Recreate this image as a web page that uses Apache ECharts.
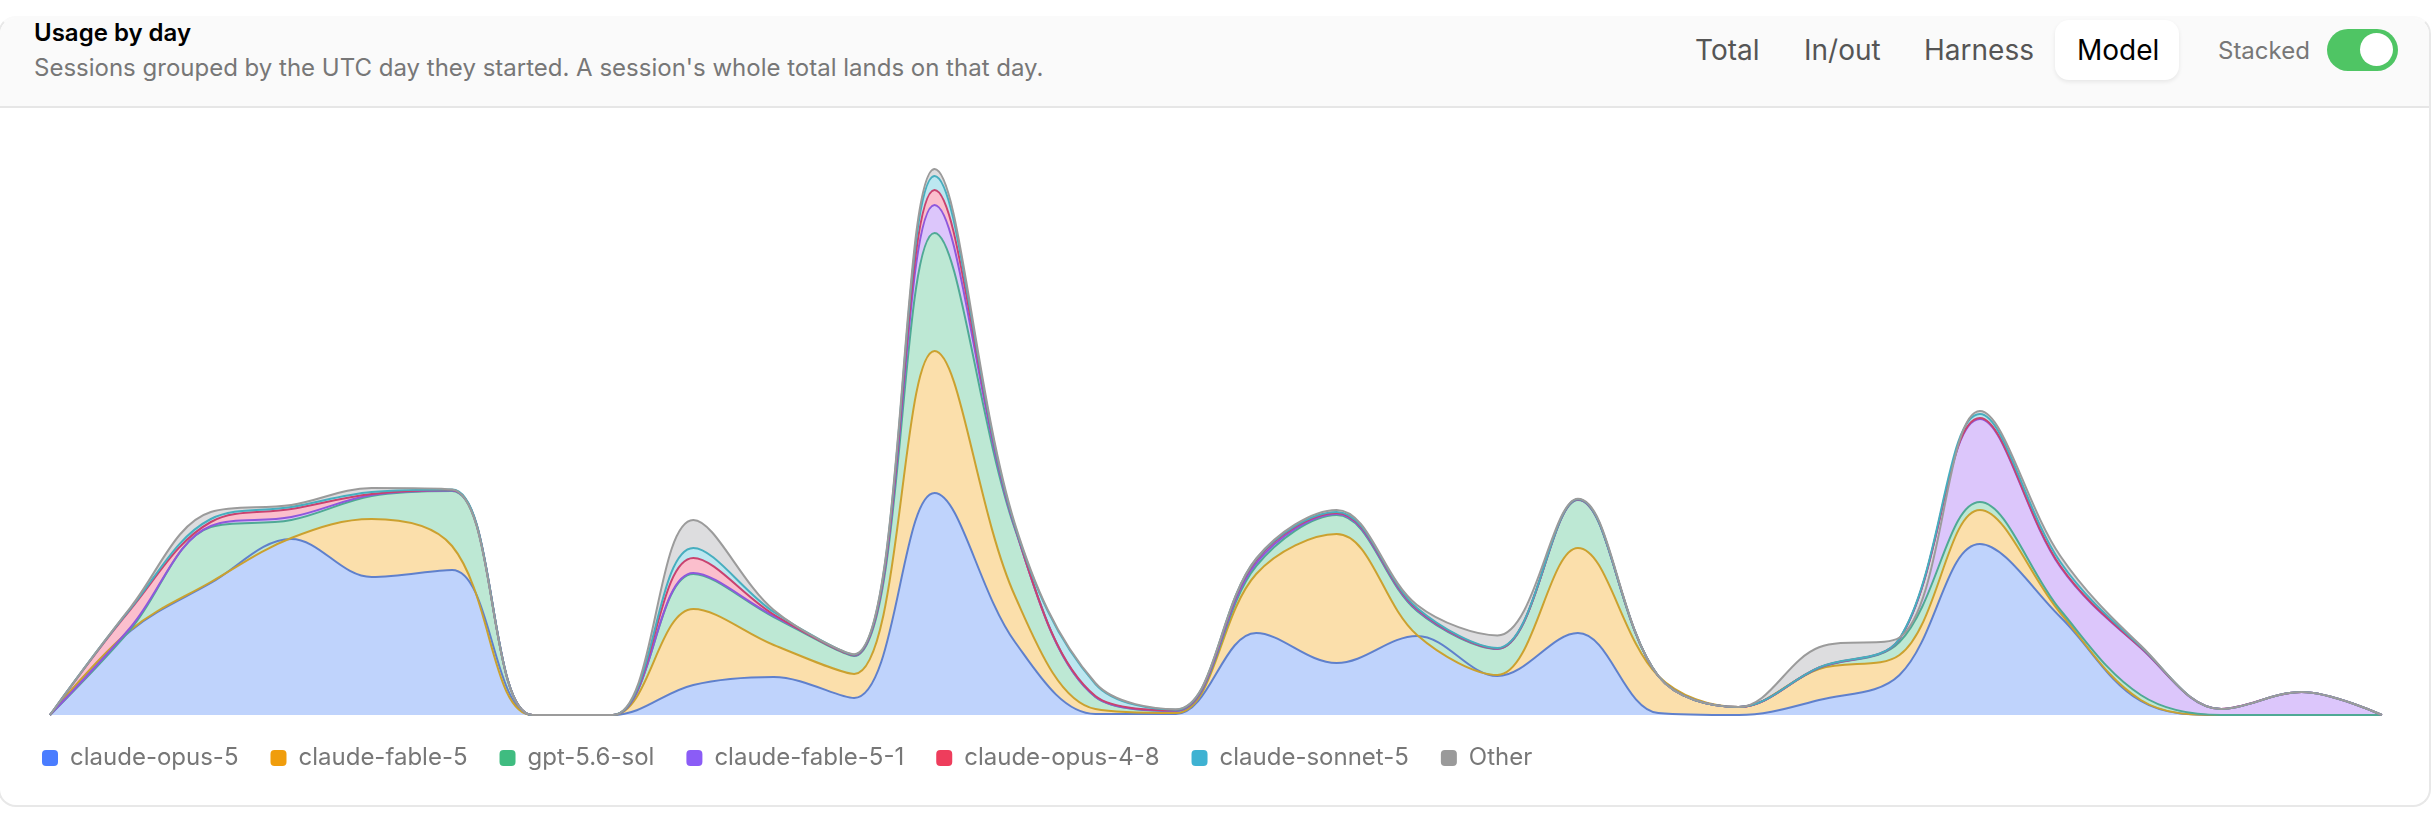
<!DOCTYPE html>
<html>
<head>
<meta charset="utf-8">
<title>Usage by day</title>
<script src="https://cdn.jsdelivr.net/npm/echarts@6/dist/echarts.min.js"></script>
<style>
    html, body { margin: 0; padding: 0; background: #fff; }
    body { width: 2432px; height: 814px; position: relative; overflow: hidden; font-family: Inter, "Noto Sans", sans-serif; }
    .card { position: absolute; left: -2px; top: 16px; width: 2429px; height: 787px; border: 2px solid #e8e8e8; border-top-color: #fafafa; border-radius: 18px; background: #fff; overflow: hidden; }
    .head { position: absolute; left: 0; top: 0; right: 0; height: 88px; background: #fafafa; border-bottom: 2px solid #e6e6e6; }
    .abs { position: absolute; white-space: nowrap; }
    #title { left: 34px; top: 19px; font-size: 24px; line-height: 28px; font-weight: 600; color: #000; }
    #sub { left: 34px; top: 54px; font-size: 24px; line-height: 28px; color: #777; }
    .tab { top: 33px; font-size: 28px; line-height: 34px; color: #555; }
    #modelTab { left: 2055px; top: 20px; width: 124px; height: 60px; background: #fff; border-radius: 14px; box-shadow: 0 2px 4px rgba(0,0,0,.08); }
    #stackedLabel { left: 2218px; top: 37px; font-size: 24px; line-height: 28px; color: #777; }
    #toggle { left: 2327px; top: 29px; width: 71px; height: 42px; background: #4fc564; border-radius: 21px; }
    #knob { left: 2360px; top: 33px; width: 33px; height: 33px; background: #fff; border-radius: 50%; }
    #chart { position: absolute; left: 0; top: 0; width: 2432px; height: 814px; }
</style>
</head>
<body>
<div class="card"><div class="head"></div></div>
<div id="title" class="abs">Usage by day</div>
<div id="sub" class="abs">Sessions grouped by the UTC day they started. A session's whole total lands on that day.</div>
<div id="modelTab" class="abs"></div>
<div class="abs tab" style="left:1695px">Total</div>
<div class="abs tab" style="left:1804px">In/out</div>
<div class="abs tab" style="left:1924px">Harness</div>
<div class="abs tab" style="left:2077px;color:#000">Model</div>
<div id="stackedLabel" class="abs">Stacked</div>
<div id="toggle" class="abs"></div>
<div id="knob" class="abs"></div>
<div id="chart"></div>

<script>
const days = ["1","2","3","4","5","6","7","8","9","10","11","12","13","14","15","16","17","18","19","20","21","22","23","24","25","26","27","28","29","30"];

// usage per day for each model, no scale is shown so these are read as heights off the picture
const claudeOpus5    = [0, 84, 132, 176, 138, 145, 0, 0, 30, 38, 17, 222, 73, 1, 1, 82, 52, 79, 39, 82, 2, 0, 15, 40, 171, 98, 14, 0, 0, 0];
const claudeFable5   = [0, 1, 1, 1, 58, 24, 0, 0, 76, 32, 24, 142, 46, 5, 1, 59, 129, 1, 1, 85, 37, 8, 31, 20, 34, 4, 1, 0, 0, 0];
const gpt56Sol       = [0, 0.5, 55, 18, 23, 55, 0, 0, 35, 28, 18, 118, 67, 12, 2, 8, 19, 24, 26, 48, 0, 0, 1, 13, 8, 3, 5, 0, 0, 0];
const claudeFable51  = [0, 2, 1, 3, 1, 0.5, 0, 0, 1, 1, 0.5, 28, 1, 0.3, 0.3, 3, 1, 1, 0.3, 0.3, 0, 0, 0.3, 3, 83, 43, 47, 6, 23, 0];
const claudeOpus48   = [0, 18, 4, 8, 1, 0.5, 0, 0, 15, 1.5, 0.3, 15, 1, 0.7, 0.5, 3, 1, 1, 0.2, 0.2, 0, 0, 0.2, 0.2, 1, 1, 0.5, 0, 0, 0];
const claudeSonnet5  = [0, 1, 3, 2, 2, 0.5, 0, 0, 10, 2.5, 0.5, 14, 1, 12, 0.5, 1, 1, 1, 0.5, 0.2, 0, 0, 0.2, 0.3, 4, 4, 1, 0, 0, 0];
const other          = [0, 1, 7, 2, 4, 0, 0, 0, 28, 2, 0.5, 7, 2, 1, 0.5, 0.5, 2, 3, 12.5, 0.5, 0, 0, 20, 1, 3, 6, 1, 0, 0, 0];

const modelNames  = ["claude-opus-5", "claude-fable-5", "gpt-5.6-sol", "claude-fable-5-1", "claude-opus-4-8", "claude-sonnet-5", "Other"];
const modelValues = [claudeOpus5, claudeFable5, gpt56Sol, claudeFable51, claudeOpus48, claudeSonnet5, other];
const legendColors = ["#4a7dff", "#f09d0c", "#3fbc80", "#8b5cf6", "#ee3d5c", "#3fb2d2", "#9a9a9a"];
const lineColors   = ["#5f80cc", "#cba12f", "#4fa995", "#8e58dc", "#c9426f", "#47aebf", "#9b9b9b"];
const fillColors   = ["#bfd3fc", "#fbdfab", "#bde8d4", "#dcc6fb", "#fbbfcd", "#bce7f0", "#dddddf"];

const chart = echarts.init(document.getElementById("chart"), null, { renderer: "canvas" });

chart.setOption({
    animation: false,
    backgroundColor: "transparent",
    color: legendColors,
    grid: { left: 50, right: 50, top: 165, height: 550 },
    xAxis: {
        type: "category",
        data: days,
        boundaryGap: false,
        show: false
    },
    yAxis: {
        type: "value",
        min: 0,
        max: 550,
        show: false
    },
    legend: {
        left: 37,
        top: 741,
        icon: "roundRect",
        itemWidth: 16,
        itemHeight: 16,
        itemGap: 32,
        data: modelNames.map((name, i) => ({ name: name, itemStyle: { color: legendColors[i], opacity: 1, borderWidth: 0 } })),
        textStyle: {
            fontFamily: "Inter",
            fontSize: 24,
            color: "#777",
            padding: [0, 0, 0, 7]
        }
    },
    series: modelNames.map((name, i) => ({
        name: name,
        type: "line",
        stack: "usage",
        data: modelValues[i],
        smooth: 0.36,
        showSymbol: false,
        lineStyle: { color: lineColors[i], width: 2 },
        itemStyle: { color: legendColors[i] },
        areaStyle: { color: fillColors[i], opacity: 1 }
    }))
});
</script>
</body>
</html>
